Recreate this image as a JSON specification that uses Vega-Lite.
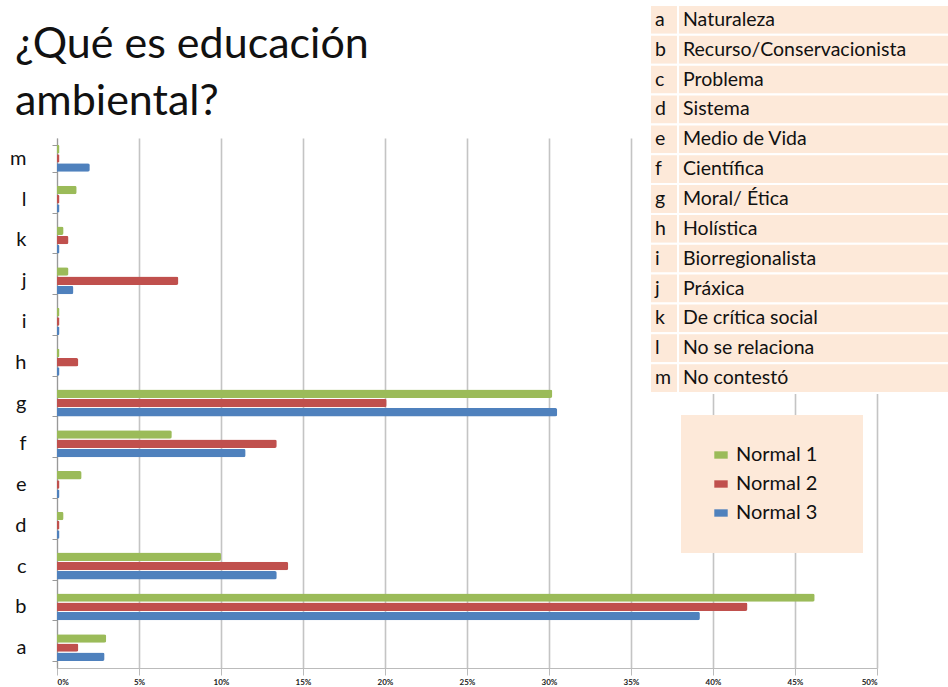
{
  "$schema": "https://vega.github.io/schema/vega-lite/v6.json",
  "autosize": "none",
  "width": 820,
  "height": 530,
  "padding": {"left": 57, "top": 138, "right": 71, "bottom": 19},
  "background": "white",
  "config": {
    "view": {"stroke": null},
    "font": "Lato",
    "title": {"font": "Lato", "fontSize": 43, "fontWeight": "normal", "color": "#111111", "anchor": "start", "frame": "group", "dx": -42, "dy": 142, "offset": 22, "lineHeight": 57}
  },
  "title": {"text": ["¿Qué es educación", "ambiental?"]},
  "datasets": {
    "bars": [
      {"cat": "a", "serie": "Normal 1", "pct": 3.0},
      {"cat": "a", "serie": "Normal 2", "pct": 1.3},
      {"cat": "a", "serie": "Normal 3", "pct": 2.9},
      {"cat": "b", "serie": "Normal 1", "pct": 46.2},
      {"cat": "b", "serie": "Normal 2", "pct": 42.1},
      {"cat": "b", "serie": "Normal 3", "pct": 39.2},
      {"cat": "c", "serie": "Normal 1", "pct": 10.0},
      {"cat": "c", "serie": "Normal 2", "pct": 14.1},
      {"cat": "c", "serie": "Normal 3", "pct": 13.4},
      {"cat": "d", "serie": "Normal 1", "pct": 0.4},
      {"cat": "d", "serie": "Normal 2", "pct": 0.15},
      {"cat": "d", "serie": "Normal 3", "pct": 0.15},
      {"cat": "e", "serie": "Normal 1", "pct": 1.5},
      {"cat": "e", "serie": "Normal 2", "pct": 0.15},
      {"cat": "e", "serie": "Normal 3", "pct": 0.15},
      {"cat": "f", "serie": "Normal 1", "pct": 7.0},
      {"cat": "f", "serie": "Normal 2", "pct": 13.4},
      {"cat": "f", "serie": "Normal 3", "pct": 11.5},
      {"cat": "g", "serie": "Normal 1", "pct": 30.2},
      {"cat": "g", "serie": "Normal 2", "pct": 20.1},
      {"cat": "g", "serie": "Normal 3", "pct": 30.5},
      {"cat": "h", "serie": "Normal 1", "pct": 0.15},
      {"cat": "h", "serie": "Normal 2", "pct": 1.3},
      {"cat": "h", "serie": "Normal 3", "pct": 0.15},
      {"cat": "i", "serie": "Normal 1", "pct": 0.15},
      {"cat": "i", "serie": "Normal 2", "pct": 0.15},
      {"cat": "i", "serie": "Normal 3", "pct": 0.15},
      {"cat": "j", "serie": "Normal 1", "pct": 0.7},
      {"cat": "j", "serie": "Normal 2", "pct": 7.4},
      {"cat": "j", "serie": "Normal 3", "pct": 1.0},
      {"cat": "k", "serie": "Normal 1", "pct": 0.4},
      {"cat": "k", "serie": "Normal 2", "pct": 0.7},
      {"cat": "k", "serie": "Normal 3", "pct": 0.15},
      {"cat": "l", "serie": "Normal 1", "pct": 1.2},
      {"cat": "l", "serie": "Normal 2", "pct": 0.15},
      {"cat": "l", "serie": "Normal 3", "pct": 0.15},
      {"cat": "m", "serie": "Normal 1", "pct": 0.15},
      {"cat": "m", "serie": "Normal 2", "pct": 0.15},
      {"cat": "m", "serie": "Normal 3", "pct": 2.0}
    ],
    "table": [
      {"letter": "a", "name": "Naturaleza"},
      {"letter": "b", "name": "Recurso/Conservacionista"},
      {"letter": "c", "name": "Problema"},
      {"letter": "d", "name": "Sistema"},
      {"letter": "e", "name": "Medio de Vida"},
      {"letter": "f", "name": "Científica"},
      {"letter": "g", "name": "Moral/ Ética"},
      {"letter": "h", "name": "Holística"},
      {"letter": "i", "name": "Biorregionalista"},
      {"letter": "j", "name": "Práxica"},
      {"letter": "k", "name": "De crítica social"},
      {"letter": "l", "name": "No se relaciona"},
      {"letter": "m", "name": "No contestó"}
    ]
  },
  "resolve": {"scale": {"y": "independent"}, "axis": {"y": "independent"}},
  "layer": [
    {
      "data": {"name": "bars"},
      "mark": {"type": "bar", "cornerRadiusEnd": 2},
      "encoding": {
        "x": {
          "field": "pct", "type": "quantitative",
          "scale": {"domain": [0, 50], "nice": false},
          "axis": {
            "values": [0, 5, 10, 15, 20, 25, 30, 35, 40, 45, 50],
            "labelExpr": "datum.value + '%'",
            "title": null,
            "grid": true, "gridColor": "#c4c4c4", "gridWidth": 1.6,
            "domainColor": "#bbbbbb", "tickColor": "#bbbbbb", "tickSize": 7,
            "labelFontSize": 8, "labelFontWeight": "bold", "labelColor": "#222222",
            "labelPadding": 3
          }
        },
        "y": {
          "field": "cat", "type": "nominal",
          "scale": {"domain": ["m", "l", "k", "j", "i", "h", "g", "f", "e", "d", "c", "b", "a"], "paddingInner": 0.34, "paddingOuter": 0.17},
          "axis": {
            "title": null, "labelFontSize": 20, "labelColor": "#111111",
            "domainColor": "#999999", "tickColor": "#999999", "tickSize": 5,
            "tickBand": "extent", "labelPadding": 26
          }
        },
        "yOffset": {"field": "serie", "type": "nominal", "scale": {"domain": ["Normal 1", "Normal 2", "Normal 3"], "paddingInner": 0.08}},
        "color": {
          "field": "serie", "type": "nominal",
          "scale": {"domain": ["Normal 1", "Normal 2", "Normal 3"], "range": ["#9bbb59", "#c0504d", "#4f81bd"]},
          "legend": {
            "orient": "none", "legendX": 624, "legendY": 277,
            "title": " ", "titleOrient": "right", "titlePadding": 16, "titleFontSize": 10,
            "fillColor": "#fde9d9", "padding": 30,
            "labelFontSize": 20, "labelColor": "#111111", "labelOffset": 5,
            "symbolType": "M-1,-0.55H1V0.55H-1Z", "symbolSize": 180,
            "symbolStrokeWidth": 0, "rowPadding": 9, "symbolOffset": 0
          }
        }
      }
    },
    {
      "data": {"name": "table"},
      "layer": [
        {
          "mark": {"type": "rect", "fill": "#fde9d9", "stroke": "white", "strokeWidth": 2},
          "encoding": {
            "x": {"datum": 36.16, "type": "quantitative"},
            "x2": {"datum": 37.87},
            "y": {"field": "letter", "type": "nominal", "scale": {"domain": ["a", "b", "c", "d", "e", "f", "g", "h", "i", "j", "k", "l", "m"], "range": [-133, 255], "paddingInner": 0, "paddingOuter": 0}, "axis": null}
          }
        },
        {
          "mark": {"type": "rect", "fill": "#fde9d9", "stroke": "white", "strokeWidth": 2},
          "encoding": {
            "x": {"datum": 37.87, "type": "quantitative"},
            "x2": {"datum": 54.6},
            "y": {"field": "letter", "type": "nominal", "axis": null}
          }
        },
        {
          "mark": {"type": "text", "align": "left", "baseline": "middle", "fontSize": 19.5, "color": "#111111", "font": "Lato"},
          "encoding": {
            "x": {"datum": 36.46, "type": "quantitative"},
            "y": {"field": "letter", "type": "nominal", "axis": null},
            "text": {"field": "letter"}
          }
        },
        {
          "mark": {"type": "text", "align": "left", "baseline": "middle", "fontSize": 19.5, "color": "#111111", "font": "Lato"},
          "encoding": {
            "x": {"datum": 38.17, "type": "quantitative"},
            "y": {"field": "letter", "type": "nominal", "axis": null},
            "text": {"field": "name"}
          }
        }
      ]
    }
  ]
}
